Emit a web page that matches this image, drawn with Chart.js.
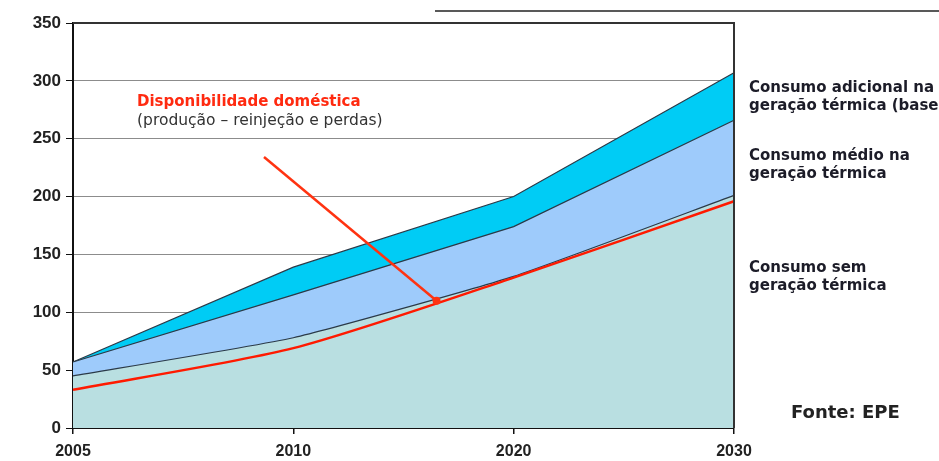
<!DOCTYPE html>
<html>
<head>
<meta charset="utf-8">
<script src="https://cdn.jsdelivr.net/npm/chart.js@4.4.1/dist/chart.umd.min.js"></script>
<style>
  html, body { margin: 0; padding: 0; background: #fff; }
  #wrap { width: 939px; height: 461px; position: relative; }
</style>
</head>
<body>
<div id="wrap"><canvas id="gas-chart"></canvas></div>
<script>
// Anos (eixo categórico)
const anos = ['2005', '2010', '2020', '2030'];

// Séries (milhões m³/dia)
const consumoAdicional = [57, 139, 200, 307];
const consumoMedio = [57, 115, 174, 266];
const consumoSemTermica = [45, 78, 131, 201];
const disponibilidade = [33, 69, 130, 196];

// Marcas do eixo y
const yMin = 0;
const yMax = 350;
const yPasso = 50;

// Textos das anotações
const rotuloDisp = 'Disponibilidade doméstica';
const rotuloDisp2 = '(produção – reinjeção e perdas)';
const legendas = [
    ['Consumo adicional na', 'geração térmica (base'],
    ['Consumo médio na', 'geração térmica'],
    ['Consumo sem', 'geração térmica']
];
const fonte = 'Fonte: EPE';

/**
 * Desenha o quadro, a seta e os textos à direita
 */
const anotacoes = {
    id: 'anotacoes',
    afterDatasetsDraw(chart) {
        const { ctx, chartArea, scales } = chart;
        ctx.save();

        // moldura direita e superior do gráfico
        ctx.strokeStyle = '#333';
        ctx.lineWidth = 2;
        ctx.beginPath();
        ctx.moveTo(chartArea.left, chartArea.top);
        ctx.lineTo(chartArea.right, chartArea.top);
        ctx.lineTo(chartArea.right, chartArea.bottom);
        ctx.stroke();

        // linha solta no topo (recorte da figura original)
        ctx.lineWidth = 1.5;
        ctx.strokeStyle = '#222';
        ctx.beginPath();
        ctx.moveTo(435, 11);
        ctx.lineTo(939, 11);
        ctx.stroke();

        // seta apontando para a curva de disponibilidade
        const xFim = scales.x.getPixelForValue(1.65);
        const yFim = scales.y.getPixelForValue(110);
        ctx.strokeStyle = '#ff3311';
        ctx.lineWidth = 2.5;
        ctx.beginPath();
        ctx.moveTo(264, 157);
        ctx.lineTo(xFim, yFim);
        ctx.stroke();
        ctx.fillStyle = '#ff3311';
        ctx.beginPath();
        ctx.arc(xFim, yFim, 4, 0, Math.PI * 2);
        ctx.fill();

        // rótulo da disponibilidade
        ctx.textBaseline = 'middle';
        ctx.textAlign = 'left';
        ctx.font = 'bold 15px "DejaVu Sans"';
        ctx.fillStyle = '#ff2a10';
        ctx.fillText(rotuloDisp, 137, 102);
        ctx.font = '15.5px "DejaVu Sans"';
        ctx.fillStyle = '#333';
        ctx.fillText(rotuloDisp2, 137, 121);

        // legendas à direita
        const xLeg = chartArea.right + 15;
        const yLeg = [88, 156, 268];
        ctx.font = 'bold 15px "DejaVu Sans"';
        ctx.fillStyle = '#1c1c28';
        legendas.forEach((linhas, i) => {
            linhas.forEach((txt, j) => {
                ctx.fillText(txt, xLeg, yLeg[i] + j * 18);
            });
        });

        // fonte
        ctx.font = 'bold 18px "DejaVu Sans"';
        ctx.fillStyle = '#222';
        ctx.fillText(fonte, 791, 413);

        ctx.restore();
    }
};

const ctx = document.getElementById('gas-chart');

new Chart(ctx, {
    type: 'line',
    data: {
        labels: anos,
        datasets: [
            {
                label: 'Disponibilidade doméstica',
                data: disponibilidade,
                borderColor: '#ff1a00',
                borderWidth: 2.5,
                fill: false,
                tension: 0.25,
                pointRadius: 0
            },
            {
                label: 'Consumo sem geração térmica',
                data: consumoSemTermica,
                borderColor: '#2b3a48',
                borderWidth: 1.2,
                backgroundColor: '#b9dfe1',
                fill: 'origin',
                tension: 0.15,
                pointRadius: 0
            },
            {
                label: 'Consumo médio na geração térmica',
                data: consumoMedio,
                borderColor: '#2b3a48',
                borderWidth: 1.2,
                backgroundColor: '#9ecbfb',
                fill: 'origin',
                tension: 0,
                pointRadius: 0
            },
            {
                label: 'Consumo adicional na geração térmica',
                data: consumoAdicional,
                borderColor: '#2b3a48',
                borderWidth: 1.2,
                backgroundColor: '#00ccf5',
                fill: 'origin',
                tension: 0,
                pointRadius: 0
            }
        ]
    },
    options: {
        responsive: true,
        maintainAspectRatio: false,
        animation: false,
        layout: {
            padding: { top: 23, right: 205, left: 0, bottom: 0 }
        },
        plugins: {
            legend: { display: false },
            tooltip: { enabled: false }
        },
        scales: {
            x: {
                type: 'category',
                offset: false,
                afterFit: function(scale) { scale.height = 33; },
                border: { color: '#111', width: 2 },
                grid: {
                    drawOnChartArea: false,
                    drawTicks: true,
                    tickLength: 6,
                    color: '#111',
                    lineWidth: 1.5
                },
                ticks: {
                    color: '#222',
                    font: { family: '"Liberation Sans", Arial', weight: 'bold', size: 16 },
                    padding: 8,
                    maxRotation: 0
                }
            },
            y: {
                min: yMin,
                max: yMax,
                afterFit: function(scale) { scale.width = 73; },
                border: { color: '#111', width: 2 },
                grid: {
                    color: '#8c8c8c',
                    lineWidth: 1,
                    tickLength: 7,
                    tickColor: '#111'
                },
                ticks: {
                    stepSize: yPasso,
                    color: '#222',
                    font: { family: '"Liberation Sans", Arial', weight: 'bold', size: 17 },
                    padding: 5
                }
            }
        }
    },
    plugins: [anotacoes]
});
</script>
</body>
</html>
